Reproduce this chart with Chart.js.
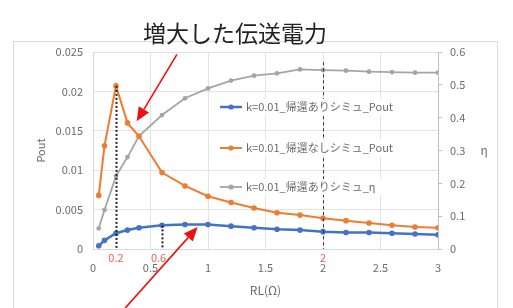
<!DOCTYPE html>
<html>
<head>
<meta charset="utf-8">
<script src="https://cdn.jsdelivr.net/npm/chart.js@4"></script>
<style>
  html, body { margin: 0; padding: 0; background: #fff; }
  #wrap { width: 513px; height: 308px; position: relative; }
</style>
</head>
<body>
<div id="wrap"><canvas id="myChart" width="513" height="308"></canvas></div>
<script>
// RL values (Ω)
const rl = [0.05, 0.1, 0.2, 0.3, 0.4, 0.6, 0.8, 1.0, 1.2, 1.4, 1.6, 1.8, 2.0, 2.2, 2.4, 2.6, 2.8, 3.0];
// Pout with feedback (blue)
const poutFb = [0.0004, 0.0011, 0.0020, 0.0024, 0.0027, 0.0030, 0.0031, 0.0031, 0.0029, 0.0027, 0.0025, 0.0024, 0.0022, 0.0021, 0.0021, 0.0020, 0.0019, 0.0018];
// Pout without feedback (orange)
const poutNoFb = [0.0068, 0.0131, 0.0207, 0.0160, 0.0143, 0.0097, 0.0080, 0.0067, 0.0059, 0.0052, 0.0046, 0.0043, 0.0039, 0.0036, 0.0033, 0.0030, 0.0028, 0.0027];
// efficiency with feedback (gray, right axis)
const effFb = [0.063, 0.119, 0.222, 0.28, 0.344, 0.408, 0.459, 0.489, 0.513, 0.528, 0.535, 0.547, 0.545, 0.543, 0.540, 0.539, 0.537, 0.537];

const seriesNames = ['k=0.01_帰還ありシミュ_Pout', 'k=0.01_帰還なしシミュ_Pout', 'k=0.01_帰還ありシミュ_η'];
const headline = '増大した伝送電力';
const rightTitle = 'η';

// marker lines: x position, top value (left axis), label under axis
const guideX = [0.2, 0.6, 2.0];
const guideTop = [0.0207, 0.0030, 0.0237];
const guideLabels = ['0.2', '0.6', '2'];
const guideLabelX = [0.2, 0.57, 2.0];
// arrows in data coords [x1, y1, x2, y2] (tail -> head)
const arrows = [
    [0.73, 0.0247, 0.38, 0.0162],
    [0.28, -0.0075, 0.91, 0.0028]
];

const blue = '#4472C4', orange = '#ED7D31', gray = '#A5A5A5';
const FONT = "'Noto Sans CJK JP', 'Noto Sans', sans-serif";
const tickColor = '#6b6b6b';

const pts = (ys) => rl.map((x, i) => ({ x: x, y: ys[i] }));

const frame = {
    id: 'frame',
    beforeDraw(chart) {
        const c = chart.ctx;
        c.save();
        c.fillStyle = '#fff';
        c.fillRect(0, 0, chart.width, chart.height);
        c.strokeStyle = '#dcdcdc';
        c.lineWidth = 1;
        c.strokeRect(13.5, 41.5, 484, 300);
        c.restore();
    }
};

const guides = {
    id: 'guides',
    afterDatasetsDraw(chart) {
        const c = chart.ctx, xs = chart.scales.x, ys = chart.scales.y;
        c.save();
        guideX.forEach((gx, i) => {
            const px = Math.round(xs.getPixelForValue(gx)) + 0.5;
            c.beginPath();
            if (i < 2) { c.setLineDash([2, 2]); c.lineWidth = 2; c.strokeStyle = '#222'; }
            else { c.setLineDash([3, 3]); c.lineWidth = 1; c.strokeStyle = '#333'; }
            c.moveTo(px, ys.getPixelForValue(guideTop[i]));
            c.lineTo(px, ys.getPixelForValue(0));
            c.stroke();
        });
        c.restore();
    },
    afterDraw(chart) {
        const c = chart.ctx, xs = chart.scales.x, ys = chart.scales.y;
        c.save();
        // labels under axis
        c.fillStyle = '#e8595a';
        c.font = '11px ' + FONT;
        c.textAlign = 'center';
        c.textBaseline = 'middle';
        guideLabels.forEach((t, i) => {
            c.fillText(t, xs.getPixelForValue(guideLabelX[i]), ys.getPixelForValue(0) + 9);
        });
        // right axis title, upright
        c.fillStyle = tickColor;
        c.font = '12px ' + FONT;
        c.fillText(rightTitle, 484, (chart.chartArea.top + chart.chartArea.bottom) / 2);
        // arrows
        c.strokeStyle = '#ee1111';
        c.fillStyle = '#ee1111';
        c.lineWidth = 1.6;
        arrows.forEach(a => {
            const x1 = xs.getPixelForValue(a[0]), y1 = ys.getPixelForValue(a[1]);
            const x2 = xs.getPixelForValue(a[2]), y2 = ys.getPixelForValue(a[3]);
            const ang = Math.atan2(y2 - y1, x2 - x1);
            const hl = 14, hw = 6;
            const bx = x2 - hl * Math.cos(ang), by = y2 - hl * Math.sin(ang);
            c.beginPath();
            c.moveTo(x1, y1);
            c.lineTo(bx, by);
            c.stroke();
            c.beginPath();
            c.moveTo(x2, y2);
            c.lineTo(bx + hw * Math.sin(ang), by - hw * Math.cos(ang));
            c.lineTo(bx - hw * Math.sin(ang), by + hw * Math.cos(ang));
            c.closePath();
            c.fill();
        });
        // headline
        c.fillStyle = '#222';
        c.font = '23px ' + FONT;
        c.textAlign = 'center';
        c.textBaseline = 'middle';
        c.fillText(headline, 235, 33);
        c.restore();
    }
};

// legend drawn inside plot area
const innerLegend = {
    id: 'innerLegend',
    afterDatasetsDraw(chart) {
        const c = chart.ctx;
        const rows = [107, 148, 187];
        c.save();
        chart.data.datasets.forEach((ds, i) => {
            const y = rows[i];
            c.fillStyle = '#fff';
            c.fillRect(216, y - 8, 200, 16);
            c.strokeStyle = ds.borderColor;
            c.lineWidth = ds.borderWidth;
            c.beginPath();
            c.moveTo(220, y);
            c.lineTo(242, y);
            c.stroke();
            c.fillStyle = ds.backgroundColor;
            c.beginPath();
            c.arc(231, y, 2.6, 0, Math.PI * 2);
            c.fill();
            c.fillStyle = tickColor;
            c.font = '11px ' + FONT;
            c.textAlign = 'left';
            c.textBaseline = 'middle';
            c.fillText(ds.label, 246, y);
        });
        c.restore();
    }
};

const ctx = document.getElementById('myChart').getContext('2d');
const chart = new Chart(ctx, {
    type: 'line',
    data: {
        datasets: [{
            label: seriesNames[0],
            data: pts(poutFb),
            borderColor: blue,
            backgroundColor: blue,
            borderWidth: 2.5,
            pointRadius: 2.8,
            pointBorderWidth: 0,
            yAxisID: 'y'
        }, {
            label: seriesNames[1],
            data: pts(poutNoFb),
            borderColor: orange,
            backgroundColor: orange,
            borderWidth: 2,
            pointRadius: 2.8,
            pointBorderWidth: 0,
            yAxisID: 'y'
        }, {
            label: seriesNames[2],
            data: pts(effFb),
            borderColor: gray,
            backgroundColor: gray,
            borderWidth: 1.8,
            pointRadius: 2.4,
            pointBorderWidth: 0,
            yAxisID: 'y1'
        }]
    },
    options: {
        responsive: false,
        animation: false,
        layout: { padding: { top: 52, left: 30, right: 20, bottom: 6 } },
        plugins: {
            legend: { display: false },
            tooltip: { enabled: false }
        },
        scales: {
            x: {
                type: 'linear',
                min: 0, max: 3,
                afterFit: (s) => { s.height = 53; },
                ticks: {
                    stepSize: 0.5, color: tickColor, font: { size: 11, family: FONT }, padding: 12, maxRotation: 0,
                    callback: (v) => String(Number(v.toFixed(1)))
                },
                grid: { color: '#e3e3e3', drawTicks: false },
                border: { color: '#d9d9d9' },
                title: { display: true, text: 'RL(Ω)', color: tickColor, font: { size: 12, family: FONT } }
            },
            y: {
                position: 'left',
                min: 0, max: 0.025,
                afterFit: (s) => { s.width = 63; },
                ticks: {
                    stepSize: 0.005, color: tickColor, font: { size: 11, family: FONT }, padding: 10,
                    callback: (v) => String(Number(v.toFixed(3)))
                },
                grid: { color: '#e3e3e3', drawTicks: false },
                border: { color: '#d9d9d9' },
                title: { display: true, text: 'Pout', color: tickColor, font: { size: 11, family: FONT } }
            },
            y1: {
                position: 'right',
                min: 0, max: 0.6,
                afterFit: (s) => { s.width = 55; },
                ticks: {
                    stepSize: 0.1, color: tickColor, font: { size: 11, family: FONT }, padding: 8,
                    callback: (v) => String(Number(v.toFixed(1)))
                },
                grid: { drawOnChartArea: false, tickLength: 4, color: '#bfbfbf' },
                border: { color: '#bfbfbf' },
                title: { display: false }
            }
        }
    },
    plugins: [frame, guides, innerLegend]
});
</script>
</body>
</html>
